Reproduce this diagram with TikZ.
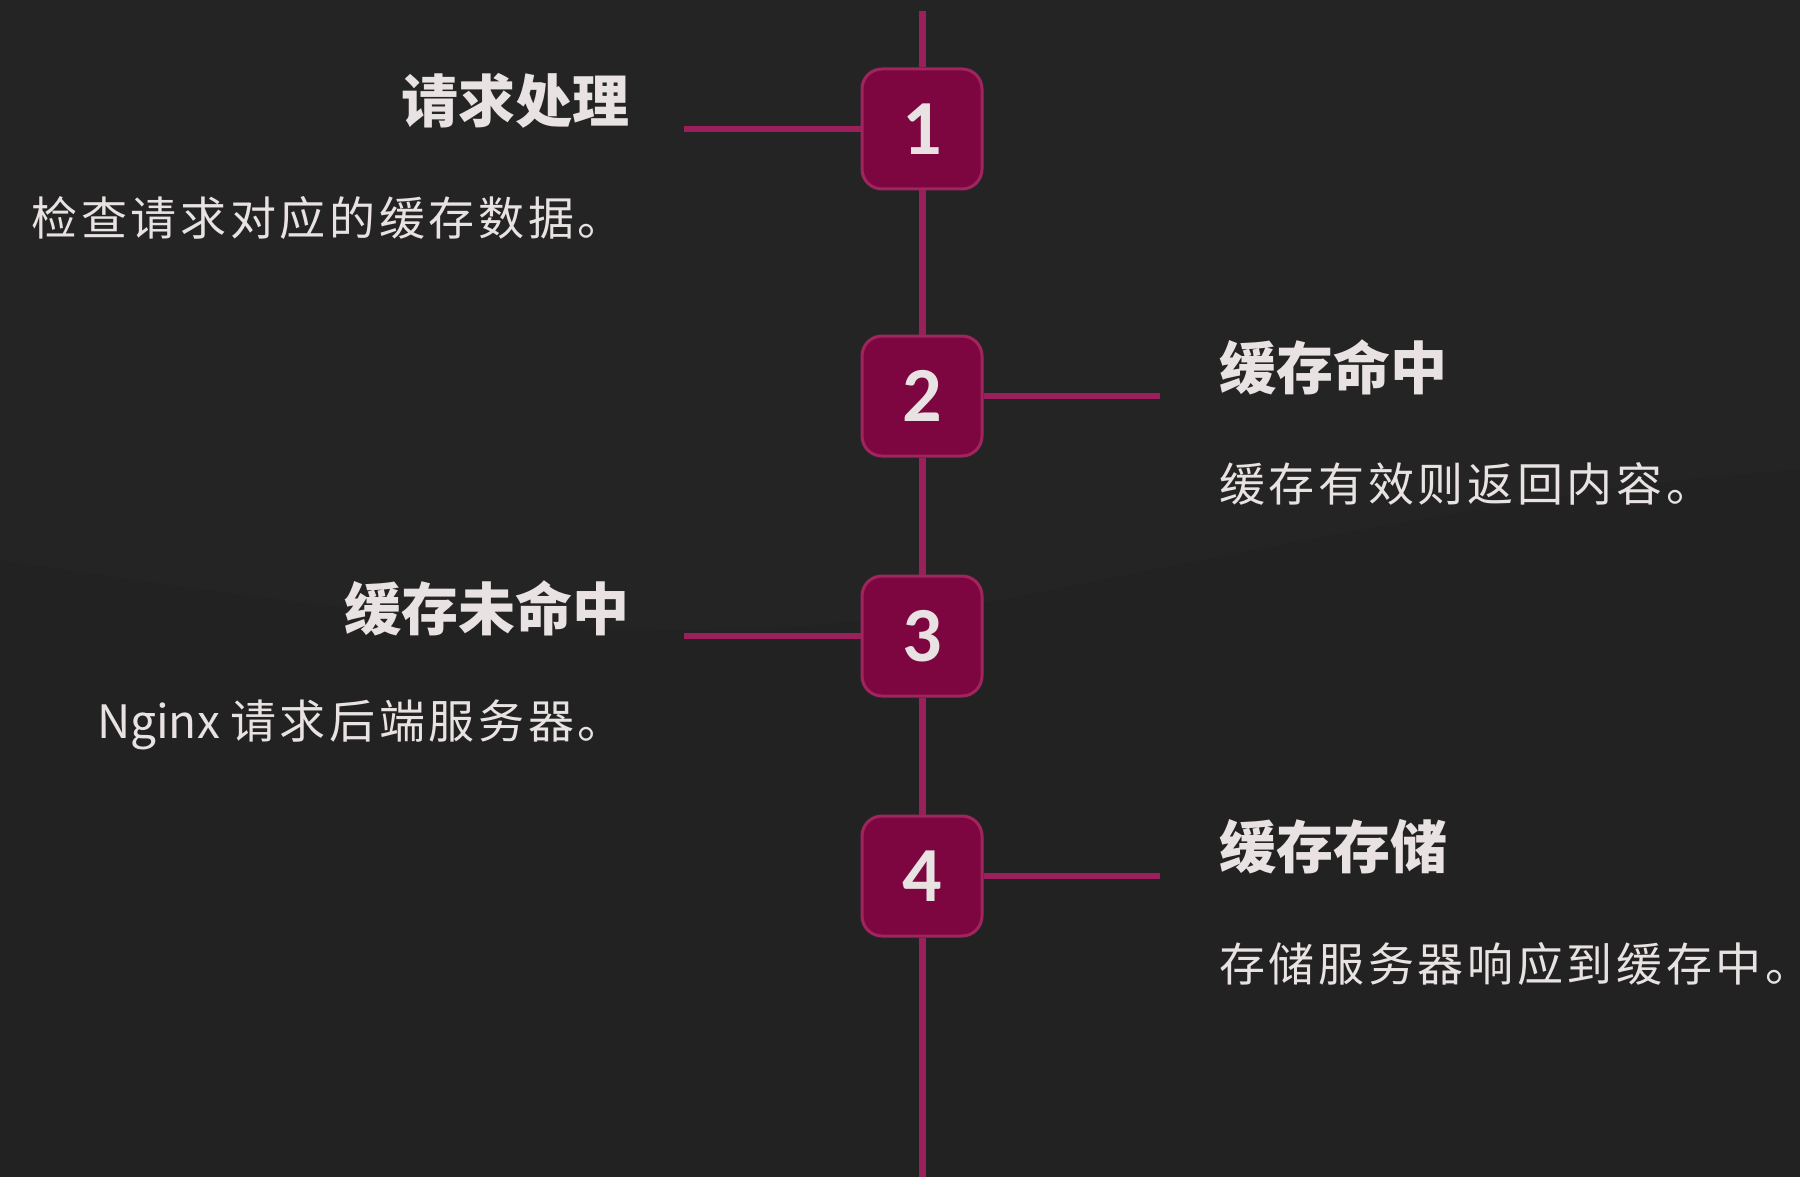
\documentclass[tikz,border=0pt]{standalone}
\usepackage{fontspec}
\newfontfamily\cjk{Noto Sans CJK SC}
\newfontfamily\cjkdesc[LetterSpace=8]{Noto Sans CJK SC}
\newfontfamily\numfont{Carlito}
\newcommand{\fullstopmark}{\kern0.08em\makebox[0.3em][l]{。}}
\definecolor{bgc}{HTML}{232222}
\definecolor{boxfill}{HTML}{7E0640}
\definecolor{boxedge}{HTML}{A0245E}
\definecolor{linec}{HTML}{9A1F5A}
\definecolor{txt}{HTML}{E8E2E2}
\tikzset{
  numbox/.style={draw=boxedge, fill=boxfill, line width=3pt, rounded corners=20pt,
    minimum width=120pt, minimum height=120pt, inner sep=0pt,
    text=txt, font=\numfont\bfseries\fontsize{78}{78}\selectfont},
  conn/.style={draw=linec, line width=6pt},
  spine/.style={draw=linec, line width=7pt},
  ttl/.style={text=txt, inner sep=0pt, font=\cjk\bfseries\fontsize{57}{60}\selectfont},
  dsc/.style={text=txt, inner sep=0pt, font=\cjkdesc\fontsize{46}{50}\selectfont},
}
\begin{document}
\begin{tikzpicture}[x=1pt,y=-1pt]
\fill[bgc] (0,0) rectangle (1800,1177);
\useasboundingbox (0,0) rectangle (1800,1177);
% subtle background wave
\fill[white, opacity=0.012] (0,560) .. controls (400,620) and (700,660) .. (1000,600) .. controls (1300,540) and (1600,480) .. (1800,470) -- (1800,0) -- (0,0) -- cycle;
\coordinate (top) at (922,11);
\coordinate (bot) at (922,1177);
\node[numbox] (b1) at (922,129) {1};
\node[numbox] (b2) at (922,396) {2};
\node[numbox] (b3) at (922,636) {3};
\node[numbox] (b4) at (922,876) {4};
\path[spine] (top) -- (b1.north);
\path[spine] (b1.south) -- (b2.north);
\path[spine] (b2.south) -- (b3.north);
\path[spine] (b3.south) -- (b4.north);
\path[spine] (b4.south) -- (bot);
\coordinate (c1) at (684,129);
\coordinate (c2) at (1160,396);
\coordinate (c3) at (684,636);
\coordinate (c4) at (1160,876);
\path[conn] (c1) -- (b1.west);
\path[conn] (b2.east) -- (c2);
\path[conn] (c3) -- (b3.west);
\path[conn] (b4.east) -- (c4);
\node[ttl, anchor=east] (t1) at (630,101) {请求处理};
\node[dsc, anchor=east] (d1) at (592,218) {检查请求对应的缓存数据\fullstopmark};
\node[ttl, anchor=west] (t2) at (1219,367) {缓存命中};
\node[dsc, anchor=west] (d2) at (1219,484) {缓存有效则返回内容\fullstopmark};
\node[ttl, anchor=east] (t3) at (630,608) {缓存未命中};
\node[dsc, anchor=east] (d3) at (592,725) {{\cjk Nginx }请求后端服务器\fullstopmark};
\node[ttl, anchor=west] (t4) at (1219,847) {缓存存储};
\node[dsc, anchor=west] (d4) at (1219,964) {存储服务器响应到缓存中\fullstopmark};
\end{tikzpicture}
\end{document}
